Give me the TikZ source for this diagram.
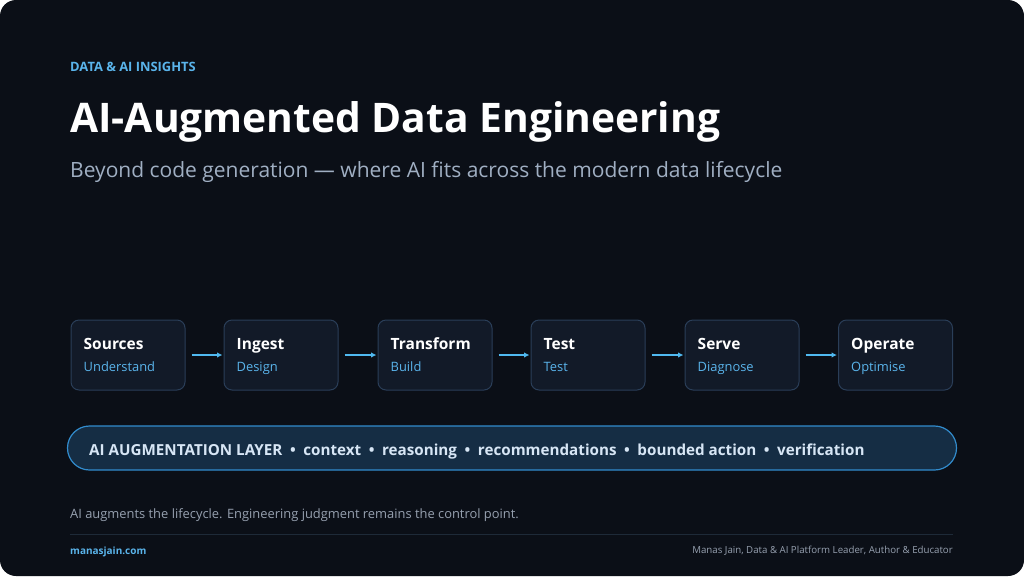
\documentclass[tikz,border=0pt]{standalone}
\usepackage{fontspec}
\setmainfont{Open Sans}
\usetikzlibrary{arrows.meta,calc}
\definecolor{bg}{RGB}{11,15,23}
\definecolor{boxfill}{RGB}{18,26,40}
\definecolor{boxline}{RGB}{42,62,88}
\definecolor{accent}{RGB}{90,180,235}
\definecolor{arrowc}{RGB}{80,185,240}
\definecolor{pillfill}{RGB}{21,45,68}
\definecolor{pillline}{RGB}{50,140,205}
\definecolor{pilltext}{RGB}{215,230,245}
\definecolor{graytext}{RGB}{150,160,175}
\definecolor{subtext}{RGB}{160,175,195}
\definecolor{rule}{RGB}{30,42,56}
\tikzset{
  stagebox/.style={draw=boxline, fill=boxfill, line width=1pt, rounded corners=8pt, minimum width=114pt, minimum height=70pt, inner sep=0pt},
  stagetitle/.style={anchor=base west, inner sep=0pt, text=white, font=\fontsize{15.5}{18}\selectfont\bfseries},
  stagesub/.style={anchor=base west, inner sep=0pt, text=accent, font=\fontsize{12.9}{16}\selectfont},
  arr/.style={draw=arrowc, line width=1.6pt, -{Latex[length=5.5pt,width=5.5pt]}, shorten <=6pt, shorten >=1pt},
  txt/.style={anchor=base west, inner sep=0pt}
}
\begin{document}
\begin{tikzpicture}[x=1pt,y=-1pt]
\useasboundingbox (0,0) rectangle (1024,576);
\fill[white] (0,0) rectangle (1024,576);
\fill[bg, rounded corners=16pt] (0,0) rectangle (1024,576);
\node[txt, text=accent, font=\fontsize{12.9}{14}\selectfont\bfseries] (kicker) at (70,71) {DATA \& AI INSIGHTS};
\node[txt, text=white, font=\fontsize{40.75}{48}\selectfont\bfseries] (title) at (70,132) {AI-Augmented Data Engineering};
\node[txt, text=subtext, font=\fontsize{21}{24}\selectfont] (subtitle) at (70,177) {Beyond code generation — where AI fits across the modern data lifecycle};
% stages
\node[stagebox] (s1) at (128,355) {};
\node[stagebox] (s2) at (281,355) {};
\node[stagebox] (s3) at (435,355) {};
\node[stagebox] (s4) at (588,355) {};
\node[stagebox] (s5) at (742,355) {};
\node[stagebox] (s6) at (895.5,355) {};
\foreach \n/\t/\s in {s1/Sources/Understand, s2/Ingest/Design, s3/Transform/Build, s4/Test/Test, s5/Serve/Diagnose, s6/Operate/Optimise}{
  \node[stagetitle] (\n t) at ($(\n.west)+(13,-6)$) {\t};
  \node[stagesub] (\n s) at ($(\n.west)+(13,16)$) {\s};
}
\draw[arr] (s1) -- (s2);
\draw[arr] (s2) -- (s3);
\draw[arr] (s3) -- (s4);
\draw[arr] (s4) -- (s5);
\draw[arr] (s5) -- (s6);
% augmentation layer
\node[draw=pillline, fill=pillfill, line width=1.2pt, rounded corners=22pt, minimum width=889pt, minimum height=44pt, inner sep=0pt] (layer) at (512,448) {};
\node[txt, text=pilltext, font=\fontsize{15.2}{18}\selectfont\bfseries] (layertext) at (89,455) {AI AUGMENTATION LAYER\enspace•\enspace context\enspace•\enspace reasoning\enspace•\enspace recommendations\enspace•\enspace bounded action\enspace•\enspace verification};
% footer
\node[txt, text=graytext, font=\fontsize{12.9}{14}\selectfont] (note) at (70,518) {AI augments the lifecycle. Engineering judgment remains the control point.};
\coordinate (ruleL) at (70,534);
\coordinate (ruleR) at (953,534);
\draw[rule, line width=1pt] (ruleL) -- (ruleR);
\node[txt, text=accent, font=\fontsize{10}{12}\selectfont\bfseries] (site) at (70,554) {manasjain.com};
\node[anchor=base east, inner sep=0pt, text=graytext, font=\fontsize{9.7}{12}\selectfont] (author) at (953,553) {Manas Jain, Data \& AI Platform Leader, Author \& Educator};
\end{tikzpicture}
\end{document}
